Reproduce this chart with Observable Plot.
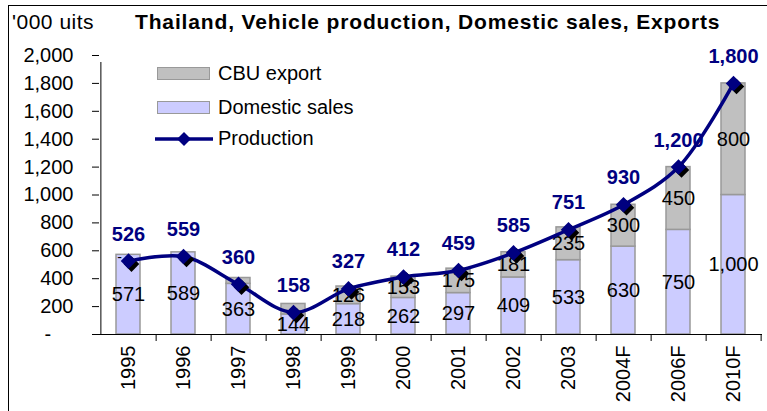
<!DOCTYPE html>
<html>
<head>
<meta charset="utf-8">
<script src="https://cdn.jsdelivr.net/npm/d3@7"></script>
<script src="https://cdn.jsdelivr.net/npm/@observablehq/plot@0.6"></script>
<style>
  html, body { margin: 0; padding: 0; background: #fff; }
  #wrap { position: relative; width: 767px; height: 411px; overflow: hidden; font-family: "Liberation Sans", Arial, sans-serif; }
  #frame { position: absolute; left: 8px; top: 5px; width: 900px; height: 600px; border-top: 1.5px solid #000; border-left: 1.5px solid #000; }
  .t { position: absolute; white-space: nowrap; color: #000; }
  #title { left: 135px; top: 10px; font-size: 21px; font-weight: bold; letter-spacing: 0.85px; }
  #units { left: 12px; top: 10px; font-size: 21px; letter-spacing: 0.5px; }
  .lg { position: absolute; font-size: 20px; white-space: nowrap; }
  .sw { position: absolute; width: 51px; height: 11px; border: 1.5px solid #999; }
  #chart { position: absolute; left: 0; top: 0; }
</style>
</head>
<body>
<div id="wrap">
  <div id="frame"></div>
  <div id="chart"></div>
  <div class="t" id="units">'000 uits</div>
  <div class="t" id="title">Thailand, Vehicle production, Domestic sales, Exports</div>
  <div id="legend"></div>
</div>
<script>
const years = ["1995","1996","1997","1998","1999","2000","2001","2002","2003","2004F","2006F","2010F"];
const domestic = [571,589,363,144,218,262,297,409,533,630,750,1000];
const exportCBU = [0,0,42,75,126,153,175,181,235,300,450,800];
const exportLabels = ["-","","","","126","153","175","181","235","300","450","800"];
const production = [526,559,360,158,327,412,459,585,751,930,1200,1800];
const yTicks = [0,200,400,600,800,1000,1200,1400,1600,1800,2000];
const seriesNames = ["CBU export","Domestic sales","Production"];

const colors = { domestic: "#ccccff", exp: "#c0c0c0", edge: "#999999", navy: "#000080" };

const rows = years.map((y, i) => ({ year: y, dom: domestic[i], exp: exportCBU[i], expLabel: exportLabels[i], prod: production[i] }));

const W = 767, H = 411, mL = 99, mR = 5, mT = 55, mB = 77;
const step = (W - mL - mR) / years.length;
const fmt = d3.format(",");

const chart = Plot.plot({
  width: W, height: H,
  marginLeft: mL, marginRight: mR, marginTop: mT, marginBottom: mB,
  style: { fontFamily: "'Liberation Sans', Arial, sans-serif", fontSize: "20px", background: "transparent", color: "#000" },
  x: { domain: years, paddingInner: 0.56, paddingOuter: 0.28, label: null },
  y: { domain: [0, 2000], label: null },
  marks: [
    Plot.barY(rows, { x: "year", y1: 0, y2: "dom", fill: colors.domestic, stroke: colors.edge, strokeWidth: 1.5 }),
    Plot.barY(rows.filter(d => d.exp > 0), { x: "year", y1: "dom", y2: d => d.dom + d.exp, fill: colors.exp, stroke: colors.edge, strokeWidth: 1.5 }),
    Plot.ruleY([0], { stroke: "#000", strokeWidth: 1 }),
    Plot.ruleX([years[0]], { x: d => d, dx: -step / 2, y1: 0, y2: 2000, stroke: "#000", strokeWidth: 1, insetBottom: -7 }),
    Plot.ruleX(years, { x: d => d, dx: step / 2, y1: 0, y2: 0, stroke: "#000", strokeWidth: 1, insetBottom: -7 }),
    Plot.axisY({ ticks: yTicks, tickSize: 7, tickPadding: 19, fontSize: 20, tickFormat: d => d === 0 ? "-\u2007\u2007" : fmt(d) }),
    Plot.axisX({ tickSize: 0, tickPadding: 11, tickRotate: -90, fontSize: 20, textAnchor: "end" }),
    Plot.text(rows, { x: "year", y: d => d.dom / 2, text: d => fmt(d.dom), fontSize: 20, fill: "#000" }),
    Plot.text(rows.filter(d => d.exp > 0), { x: "year", y: d => d.dom + d.exp / 2, text: "expLabel", fontSize: 20, fill: "#000" }),
    Plot.text(rows.filter(d => d.exp === 0 && d.expLabel), { x: "year", y: d => d.dom, text: "expLabel", fontSize: 14, dx: -9, dy: 3, fill: "#000" }),
    Plot.line(rows, { x: "year", y: "prod", stroke: colors.navy, strokeWidth: 3.5, curve: "catmull-rom" }),
    Plot.dot(rows, { x: "year", y: "prod", symbol: "diamond2", r: 7, fill: "#000", dx: 3, dy: 3 }),
    Plot.dot(rows, { x: "year", y: "prod", symbol: "diamond2", r: 7, fill: colors.navy }),
    Plot.text(rows, { x: "year", y: "prod", text: d => fmt(d.prod), dy: -27, fontSize: 20, fontWeight: "bold", fill: colors.navy })
  ]
});
document.getElementById("chart").appendChild(chart);

// legend
const lg = document.getElementById("legend");
const items = [
  { name: seriesNames[0], type: "box", fill: colors.exp, top: 67 },
  { name: seriesNames[1], type: "box", fill: colors.domestic, top: 101 },
  { name: seriesNames[2], type: "line", top: 128 }
];
items.forEach(it => {
  if (it.type === "box") {
    const b = document.createElement("div");
    b.className = "sw";
    b.style.left = "157px"; b.style.top = it.top + "px"; b.style.background = it.fill;
    lg.appendChild(b);
  } else {
    const s = document.createElementNS("http://www.w3.org/2000/svg", "svg");
    s.setAttribute("width", "62"); s.setAttribute("height", "22");
    s.style.position = "absolute"; s.style.left = "153px"; s.style.top = it.top + "px";
    s.innerHTML = `<line x1="2" y1="11" x2="60" y2="11" stroke="${colors.navy}" stroke-width="3.5"/>
      <path d="M31,4 L38,11 L31,18 L24,11 Z" fill="${colors.navy}"/>`;
    lg.appendChild(s);
  }
  const t = document.createElement("div");
  t.className = "lg";
  t.textContent = it.name;
  t.style.left = "218px";
  t.style.top = (it.type === "box" ? it.top - 5 : it.top - 1) + "px";
  lg.appendChild(t);
});
</script>
</body>
</html>
